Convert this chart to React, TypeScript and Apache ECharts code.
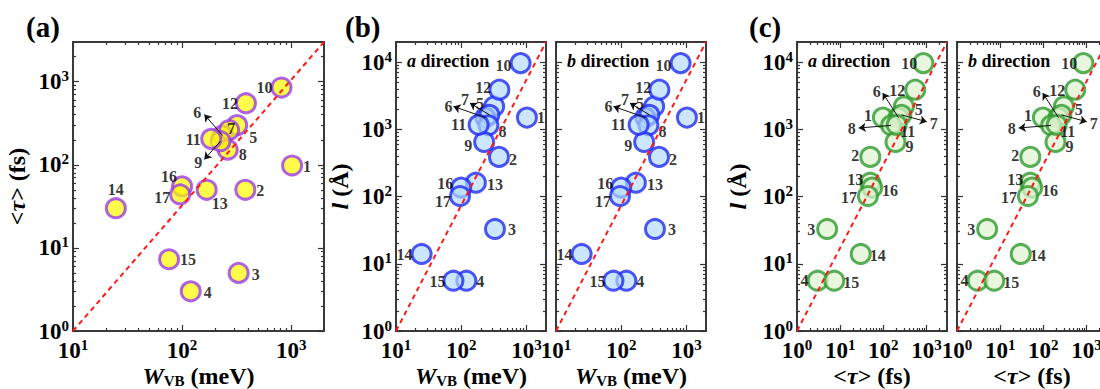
import React, { useEffect, useRef } from 'react';
import * as echarts from 'echarts';

// ---------------- data ----------------
const compounds = ['1', '2', '3', '4', '5', '6', '7', '8', '9', '10', '11', '12', '13', '14', '15', '16', '17'];
const wvbMeV = [1020, 380, 330, 120, 320, 235, 270, 262, 225, 815, 185, 385, 168, 24.7, 76, 100, 96];
const tauFs = [98, 50, 5, 3, 300, 225, 262, 152, 192, 850, 205, 550, 50, 30, 7.3, 55, 44];
const lengthDirA = [1500, 390, 33, 5.6, 2200, 1500, 1650, 1150, 650, 9700, 1170, 3900, 161, 14, 5.6, 136, 102];
const lengthDirB = [1500, 390, 33, 5.6, 2200, 1500, 1650, 1150, 650, 9700, 1170, 3900, 161, 14, 5.6, 136, 102];

// dashed guide lines (end points)
const guideTauX = [10, 2000];
const guideTauY = [1, 3000];
const guideLenWX = [10, 2000];
const guideLenWY = [1, 20000];
const guideLenTX = [1, 3000];
const guideLenTY = [1, 20000];

// arrow call-outs: compound index -> arrow tip (data coords)
const arrowsTauW = [
  { idx: 5, tip: [160, 403] },
  { idx: 8, tip: [160, 116] },
];
const arrowsLenW = [
  { idx: 5, tip: [76, 2200] },
  { idx: 6, tip: [136, 2470] },
];
const arrowsLenT = [
  { idx: 5, tip: [97, 3490] },
  { idx: 6, tip: [1020, 1300] },
  { idx: 7, tip: [27, 1050] },
];

// ---------------- styles ----------------
const FONT = 'Liberation Serif';
const TXT = '#000';

// label offsets (px) per compound, null = labelled by arrow
const offA: (number[] | null)[] = [
  [15, 1], [15, 1], [17, 2], [17, 1], [16, 12], null, [2, -2], [15, 5], null,
  [-17, 0], [-18, 1], [-16, 0], [13, 14], [0, -19], [19, 0], [-13, -10], [-18, 3],
];
const offB: (number[] | null)[] = [
  [14, 0], [14, 3], [17, 1], [14, 1], [-14, -3], null, null, [14, 6], [-16, 4],
  [-17, 2], [-20, 0], [-16, -2], [19, 2], [-17, 1], [-16, 1], [-16, -4], [-17, 5],
];
const offC: (number[] | null)[] = [
  [-15, -2], [-15, -1], [-16, 1], [-13, 0], [15, 3], null, null, null, [14, 5],
  [-14, 0], [11, 7], [-18, 1], [-15, -3], [17, 2], [17, 2], [18, 3], [-19, 1],
];
const arrowOffA = [[-7, -2], [-6, 3]];
const arrowOffB = [[-5, 0], [-5, -4]];
const arrowOffC = [[-6, -1], [7, 2], [-7, 1]];

const tickRich = {
  b: { fontFamily: FONT, fontWeight: 'bold', fontSize: 23, color: TXT, lineHeight: 26 },
  s: { fontFamily: FONT, fontWeight: 'bold', fontSize: 15, color: TXT, lineHeight: 12, verticalAlign: 'top' },
};
const nameRich = {
  n: { fontFamily: FONT, fontWeight: 'bold', fontSize: 24, color: TXT, lineHeight: 24 },
  i: { fontFamily: FONT, fontWeight: 'bold', fontStyle: 'italic', fontSize: 24, color: TXT, lineHeight: 24 },
  sub: { fontFamily: FONT, fontWeight: 'bold', fontSize: 15, color: TXT, lineHeight: 15, verticalAlign: 'bottom' },
};

function decades(min: number, max: number) {
  const out: number[] = [];
  for (let e = Math.floor(Math.log10(min)); e <= Math.ceil(Math.log10(max)); e++) {
    const v = Math.pow(10, e);
    if (v >= min * 0.999 && v <= max * 1.001) out.push(v);
  }
  return out;
}
function minors(min: number, max: number) {
  const out: number[] = [];
  for (let e = Math.floor(Math.log10(min)); e <= Math.ceil(Math.log10(max)); e++) {
    for (let k = 2; k <= 9; k++) {
      const v = k * Math.pow(10, e);
      if (v > min && v < max) out.push(v);
    }
  }
  return out;
}

function axisSet(dim: 'x' | 'y', gridIndex: number, range: number[], showLabels: boolean, name: string, nameGap: number) {
  const pos = dim === 'x' ? ['bottom', 'top'] : ['left', 'right'];
  const base = {
    type: 'log', logBase: 10, gridIndex, min: range[0], max: range[1],
    axisLine: { show: false, onZero: false }, splitLine: { show: false }, axisPointer: { show: false },
  };
  const major = decades(range[0], range[1]);
  const minor = minors(range[0], range[1]);
  const tickStyle = { color: '#333', width: 1.2 };
  const hidden = { show: false };
  return [
    {
      ...base, position: pos[0],
      axisTick: { show: true, inside: true, length: 6, customValues: major, lineStyle: tickStyle },
      axisLabel: {
        show: showLabels, customValues: major, margin: dim === 'x' ? 6 : 4,
        fontFamily: FONT, fontWeight: 'bold',
        formatter: (v: number) => `{b|10}{s|${Math.round(Math.log10(v))}}`, rich: tickRich,
      },
      name, nameLocation: 'middle', nameGap, nameMoveOverlap: false,
      nameTextStyle: { fontFamily: FONT, fontWeight: 'bold', rich: nameRich },
    },
    { ...base, position: pos[0], axisTick: { show: true, inside: true, length: 3, customValues: minor, lineStyle: tickStyle }, axisLabel: hidden },
    { ...base, position: pos[1], axisTick: { show: true, inside: true, length: 6, customValues: major, lineStyle: tickStyle }, axisLabel: hidden },
    { ...base, position: pos[1], axisTick: { show: true, inside: true, length: 3, customValues: minor, lineStyle: tickStyle }, axisLabel: hidden },
  ];
}

const W_NAME = '{i|W}{sub|VB}{n| (meV)}';
const TAU_NAME = '{n|<}{i|τ}{n|> (fs)}';
const L_NAME = '{i|l}{n| (Å)}';

const X_GAP = 33;

const panels = [
  {
    grid: { left: 73, top: 42, width: 251, height: 289 },
    xr: [10, 2000], yr: [1, 3000], xs: wvbMeV, ys: tauFs, showY: true,
    xName: W_NAME, xGap: X_GAP, yName: TAU_NAME, yGap: 44,
    guideX: guideTauX, guideY: guideTauY, offs: offA, arrows: arrowsTauW, arrowOffs: arrowOffA,
    fill: 'rgba(255,250,0,0.88)', stroke: '#9b3be8',
  },
  {
    grid: { left: 396, top: 42, width: 150, height: 289 },
    xr: [10, 2000], yr: [1, 20000], xs: wvbMeV, ys: lengthDirA, showY: true,
    xName: W_NAME, xGap: X_GAP, yName: L_NAME, yGap: 44,
    guideX: guideLenWX, guideY: guideLenWY, offs: offB, arrows: arrowsLenW, arrowOffs: arrowOffB,
    fill: 'rgba(180,220,252,0.85)', stroke: '#1f2cf2',
  },
  {
    grid: { left: 556, top: 42, width: 150, height: 289 },
    xr: [10, 2000], yr: [1, 20000], xs: wvbMeV, ys: lengthDirB, showY: false,
    xName: W_NAME, xGap: X_GAP, yName: '', yGap: 44,
    guideX: guideLenWX, guideY: guideLenWY, offs: offB, arrows: arrowsLenW, arrowOffs: arrowOffB,
    fill: 'rgba(180,220,252,0.85)', stroke: '#1f2cf2',
  },
  {
    grid: { left: 797, top: 42, width: 150, height: 289 },
    xr: [1, 3000], yr: [1, 20000], xs: tauFs, ys: lengthDirA, showY: true,
    xName: TAU_NAME, xGap: X_GAP, yName: L_NAME, yGap: 47,
    guideX: guideLenTX, guideY: guideLenTY, offs: offC, arrows: arrowsLenT, arrowOffs: arrowOffC,
    fill: 'rgba(222,243,206,0.9)', stroke: '#2f9a2f',
  },
  {
    grid: { left: 957, top: 42, width: 150, height: 289 },
    xr: [1, 3000], yr: [1, 20000], xs: tauFs, ys: lengthDirB, showY: false,
    xName: TAU_NAME, xGap: X_GAP, yName: '', yGap: 47,
    guideX: guideLenTX, guideY: guideLenTY, offs: offC, arrows: arrowsLenT, arrowOffs: arrowOffC,
    fill: 'rgba(222,243,206,0.9)', stroke: '#2f9a2f',
  },
];

const labelBase = {
  show: true, position: ['50%', '50%'], align: 'center', verticalAlign: 'middle',
  formatter: '{b}', fontFamily: FONT, fontWeight: 'bold',
  fontSize: 16, color: TXT, textBorderWidth: 0, textBorderColor: 'rgba(0,0,0,0)',
};

function buildOption() {
  const grid: any[] = [];
  const xAxis: any[] = [];
  const yAxis: any[] = [];
  const series: any[] = [];
  panels.forEach((p, g) => {
    grid.push({
      ...p.grid, show: true, borderColor: '#3a3a3a', borderWidth: 2, backgroundColor: 'transparent',
      containLabel: false, outerBoundsMode: 'none',
    });
    xAxis.push(...axisSet('x', g, p.xr, true, p.xName, p.xGap));
    yAxis.push(...axisSet('y', g, p.yr, p.showY, p.yName, p.yGap));
    const ax = { xAxisIndex: g * 4, yAxisIndex: g * 4 };
    series.push({
      type: 'scatter', ...ax, symbol: 'circle', symbolSize: 19, z: 2, silent: true,
      itemStyle: { color: p.fill, borderColor: p.stroke, borderWidth: 3 },
      label: labelBase,
      data: compounds.map((c, i) => ({
        name: c, value: [p.xs[i], p.ys[i]],
        label: p.offs[i] ? { offset: p.offs[i] } : { show: false },
      })),
    });
    series.push({
      type: 'line', ...ax, z: 3, silent: true, symbol: 'none', showSymbol: false,
      lineStyle: { color: '#ff1a1a', width: 2, type: [5, 4] },
      data: [[p.guideX[0], p.guideY[0]], [p.guideX[1], p.guideY[1]]],
    });
    series.push({
      type: 'scatter', ...ax, z: 4, silent: true, symbolSize: 1,
      itemStyle: { color: 'rgba(0,0,0,0)' },
      label: labelBase,
      data: p.arrows.map((a, k) => ({ name: compounds[a.idx], value: a.tip, label: { offset: p.arrowOffs[k] } })),
      markLine: {
        silent: true, symbol: ['none', 'arrow'], symbolSize: 7, label: { show: false },
        lineStyle: { color: '#111', width: 1, type: 'solid' },
        data: p.arrows.map((a) => [{ coord: [p.xs[a.idx], p.ys[a.idx]] }, { coord: a.tip }]),
      },
    });
  });

  const letter = (t: string, left: number) => ({
    type: 'text', left, top: 12, style: { text: t, font: `bold 29px ${FONT}`, fill: TXT },
  });
  const dirRich = {
    i: { fontFamily: FONT, fontWeight: 'bold', fontStyle: 'italic', fontSize: 18, fill: TXT },
    n: { fontFamily: FONT, fontWeight: 'bold', fontSize: 18, fill: TXT },
  };
  const dirText = (d: string, left: number) => ({
    type: 'text', left, top: 52, z: 10, style: { text: `{i|${d}}{n| direction}`, rich: dirRich },
  });

  return {
    animation: false,
    backgroundColor: '#fff',
    textStyle: { fontFamily: FONT },
    grid, xAxis, yAxis, series,
    graphic: [
      letter('(a)', 26), letter('(b)', 345), letter('(c)', 749),
      dirText('a', 407), dirText('b', 567), dirText('a', 808), dirText('b', 968),
    ],
  };
}

export default function App() {
  const ref = useRef<HTMLDivElement>(null);
  useEffect(() => {
    if (!ref.current) return;
    const chart = echarts.init(ref.current, undefined, { renderer: 'svg' });
    chart.setOption(buildOption() as any);
    return () => chart.dispose();
  }, []);
  return <div ref={ref} style={{ position: 'fixed', left: 0, top: 0, width: 1100, height: 389 }} />;
}
